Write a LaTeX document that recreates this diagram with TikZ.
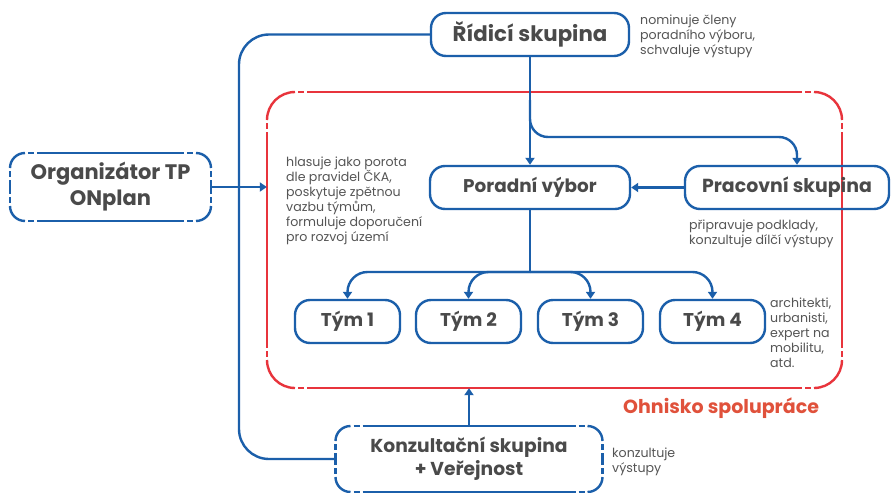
\documentclass[tikz,border=0pt]{standalone}
\usepackage{fontspec}
\setmainfont{Poppins}
\usetikzlibrary{arrows.meta}
\definecolor{bl}{HTML}{1B5FAA}
\definecolor{rd}{HTML}{E8343C}
\definecolor{tx}{HTML}{4A4A4A}
\definecolor{nt}{HTML}{555555}
\definecolor{orr}{HTML}{E0513B}
\newcommand\corbox[6]{%
  \begin{scope}[line width=2.4pt, draw=#6]
    \draw[rounded corners=#5pt] (#1,#2+#5) -- (#1,#2) -- (#1+#5,#2);
    \draw[rounded corners=#5pt] (#3-#5,#2) -- (#3,#2) -- (#3,#2+#5);
    \draw[rounded corners=#5pt] (#3,#4-#5) -- (#3,#4) -- (#3-#5,#4);
    \draw[rounded corners=#5pt] (#1+#5,#4) -- (#1,#4) -- (#1,#4-#5);
    \foreach \yy in {#2,#4} {
      \draw (#1+#5+3,\yy) -- (#1+#5+9,\yy);
      \draw (#1+#5+12,\yy) -- (#3-#5-12,\yy);
      \draw (#3-#5-9,\yy) -- (#3-#5-3,\yy);
    }
    \foreach \xx in {#1,#3} {
      \draw (\xx,#2+#5+3) -- (\xx,#2+#5+9);
      \draw (\xx,#2+#5+12) -- (\xx,#4-#5-12);
      \draw (\xx,#4-#5-9) -- (\xx,#4-#5-3);
    }
  \end{scope}}
\tikzset{
  box/.style={draw=bl, line width=2.4pt, rounded corners=15pt, text=tx,
    font=\fontsize{18.5}{24}\selectfont\bfseries, align=center, inner sep=0pt},
  dbox/.style={draw=none, text=tx, font=\fontsize{18.7}{23}\selectfont\bfseries,
    align=center, inner sep=0pt},
  note/.style={text=nt, font=\fontsize{12.6}{15}\selectfont, align=left,
    anchor=north west, inner sep=0pt},
  conn/.style={draw=bl, line width=2.4pt},
  arr/.style={conn, -{Triangle[width=9pt,length=7pt]}}
}
\begin{document}
\begin{tikzpicture}[x=1pt,y=-1pt]
\useasboundingbox (0,0) rectangle (895,493);
\fill[white] (0,0) rectangle (895,493);

% red focus area
\node[draw=none, minimum width=575pt, minimum height=296pt, inner sep=0pt] (oh) at (554.5,240) {};
\corbox{267}{92}{842}{388}{28}{rd}
\node[font=\fontsize{19}{22}\selectfont\bfseries, text=orr, anchor=west, inner sep=0pt] (ohl) at (623,408) {Ohnisko spolupráce};

% boxes
\node[box, font=\fontsize{21.3}{26}\selectfont\bfseries, minimum width=198pt, minimum height=43pt] (rs) at (530,34.5) {Řídicí skupina};
\node[box, font=\fontsize{18.4}{24}\selectfont\bfseries, minimum width=200pt, minimum height=43pt] (pv) at (530,187.5) {Poradní výbor};
\node[box, font=\fontsize{18.9}{24}\selectfont\bfseries, minimum width=204pt, minimum height=43pt] (ps) at (787,187.5) {Pracovní skupina};
\node[box, minimum width=105pt, minimum height=43pt] (t1) at (347.5,321.5) {Tým 1};
\node[box, minimum width=105pt, minimum height=43pt] (t2) at (468.5,321.5) {Tým 2};
\node[box, minimum width=105pt, minimum height=43pt] (t3) at (590.5,321.5) {Tým 3};
\node[box, minimum width=105pt, minimum height=43pt] (t4) at (712.5,321.5) {Tým 4};
\node[dbox, font=\fontsize{21}{26}\selectfont\bfseries, minimum width=201pt, minimum height=68pt] (org) at (110.5,187) {Organizátor TP\\ONplan};
\corbox{10}{153}{211}{221}{15}{bl}
\node[dbox, minimum width=267pt, minimum height=66pt] (ks) at (469,459) {Konzultační skupina\\+ Veřejnost};
\corbox{335.5}{426}{602.5}{492}{15}{bl}

% notes
\node[note] (n1) at (640,14.5) {nominuje členy\\poradního výboru,\\schvaluje výstupy};
\node[note] (n2) at (286,156.5) {hlasuje jako porota\\dle pravidel ČKA,\\poskytuje zpětnou\\vazbu týmům,\\formuluje doporučení\\pro rozvoj území};
\node[note] (n3) at (689,220) {připravuje podklady,\\konzultuje dílčí výstupy};
\node[note] (n4) at (770,297.5) {architekti,\\urbanisti,\\expert na\\mobilitu,\\atd.};
\node[note] (n5) at (612,447.5) {konzultuje\\výstupy};

% connectors
\draw[conn, rounded corners=30pt] (rs.west) -| (239,300) |- (ks.west);
\draw[arr] (org.east) -- (org.east -| oh.west);
\draw[arr] (rs.south) -- (pv.north);
\coordinate (b0) at (530,100);
\coordinate (b1) at (797,137);
\draw[arr, rounded corners=18pt] (b0) |- (b1) -- ([xshift=10pt]ps.north);
\draw[arr] (ps.west) -- (pv.east);
\coordinate (j) at (530,272);
\draw[conn] (pv.south) -- (j);
\foreach \t in {t1,t2,t3,t4} {
  \draw[arr, rounded corners=20pt] (j) -| (\t.north);
}
\draw[arr] (ks.north) -- (ks.north |- oh.south);
\end{tikzpicture}
\end{document}
